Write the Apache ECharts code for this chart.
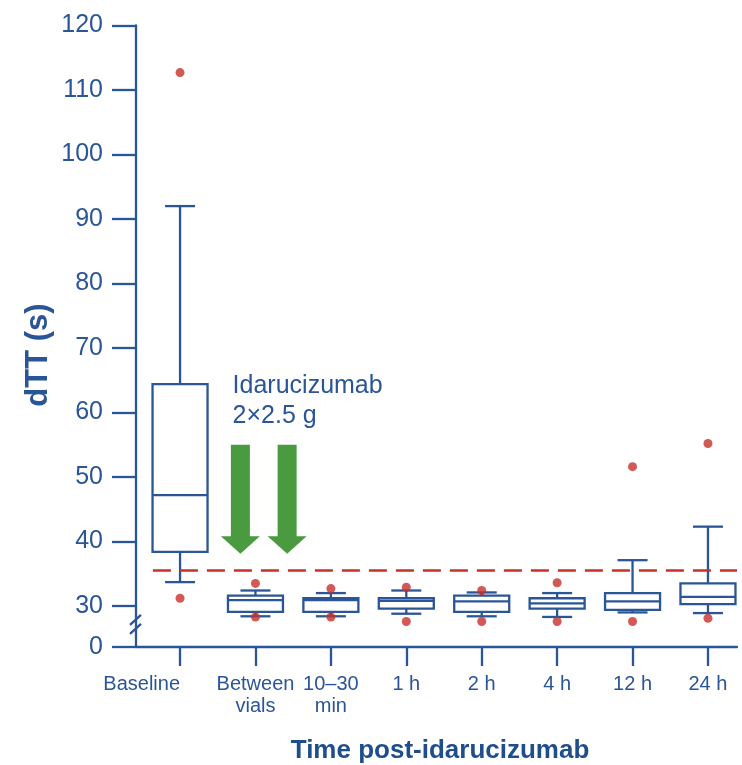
<!DOCTYPE html>
<html>
<head>
<meta charset="utf-8">
<script src="https://cdn.jsdelivr.net/npm/echarts@6/dist/echarts.min.js"></script>
<style>
  html, body { margin: 0; padding: 0; background: #ffffff; }
  #chart { width: 742px; height: 765px; }
</style>
</head>
<body>
<div id="chart"></div>
<script>
// Time points after idarucizumab administration
const categories = ['Baseline', 'Between\nvials', '10–30\nmin', '1 h', '2 h', '4 h', '12 h', '24 h'];

// Box statistics per time point (dTT, s)
const lowerWhisker = [33.7, 28.4, 28.4, 28.8, 28.4, 28.3, 29.0, 28.9];
const q1Values     = [38.4, 29.1, 29.1, 29.6, 29.1, 29.6, 29.4, 30.3];
const medians      = [47.2, 30.9, 30.9, 30.8, 30.7, 30.4, 30.7, 31.4];
const q3Values     = [64.4, 31.6, 31.2, 31.2, 31.6, 31.2, 32.0, 33.5];
const upperWhisker = [92.0, 32.4, 32.0, 32.4, 32.1, 32.0, 37.1, 42.3];

// Outlying values: [time point index, dTT]
const outliers = [
  [0, 112.7], [0, 31.2],
  [1, 33.5], [1, 28.3],
  [2, 32.7], [2, 28.3],
  [3, 32.9], [3, 27.6],
  [4, 32.4], [4, 27.6],
  [5, 33.6], [5, 27.6],
  [6, 51.6], [6, 27.6],
  [7, 55.2], [7, 28.1]
];

// Upper limit of normal for dTT
const upperLimitNormal = 35.6;

// Y tick labels above the axis break; the axis bottom is labelled 0
const yTickValues = [30, 40, 50, 60, 70, 80, 90, 100, 110, 120];
const yAxisFloor = 23.64;

const X_MIN = -0.584;
const X_MAX = 7.385;

const BLUE = '#2a5596';
const RED = '#c8302a';
const GREEN = '#4a9a3f';
const FONT = 'Liberation Sans, Arial, sans-serif';
const LW = 2.3;

const boxData = categories.map((c, i) => [i, lowerWhisker[i], q1Values[i], medians[i], q3Values[i], upperWhisker[i]]);
const xIndices = categories.map((c, i) => i);

function renderBox(params, api) {
  const x = api.value(0);
  const lo = api.coord([x, api.value(1)]);
  const q1 = api.coord([x, api.value(2)]);
  const md = api.coord([x, api.value(3)]);
  const q3 = api.coord([x, api.value(4)]);
  const hi = api.coord([x, api.value(5)]);
  const cx = lo[0];
  const boxW = 55, capW = 30;
  const line = { stroke: BLUE, lineWidth: LW };
  return {
    type: 'group',
    children: [
      { type: 'line', shape: { x1: cx, y1: q3[1], x2: cx, y2: hi[1] }, style: line },
      { type: 'line', shape: { x1: cx - capW / 2, y1: hi[1], x2: cx + capW / 2, y2: hi[1] }, style: line },
      { type: 'line', shape: { x1: cx, y1: q1[1], x2: cx, y2: lo[1] }, style: line },
      { type: 'line', shape: { x1: cx - capW / 2, y1: lo[1], x2: cx + capW / 2, y2: lo[1] }, style: line },
      { type: 'rect', shape: { x: cx - boxW / 2, y: q3[1], width: boxW, height: q1[1] - q3[1] },
        style: { fill: '#ffffff', stroke: BLUE, lineWidth: LW } },
      { type: 'line', shape: { x1: cx - boxW / 2, y1: md[1], x2: cx + boxW / 2, y2: md[1] }, style: line }
    ]
  };
}

const chart = echarts.init(document.getElementById('chart'), null, { renderer: 'canvas' });

chart.setOption({
  animation: false,
  backgroundColor: '#ffffff',
  grid: { left: 136, right: 5, top: 25.5, bottom: 118, containLabel: false },
  xAxis: {
    type: 'value',
    min: X_MIN,
    max: X_MAX,
    axisLine: { show: true, onZero: false, lineStyle: { color: BLUE, width: LW } },
    axisTick: { show: true, length: 19, customValues: xIndices, lineStyle: { color: BLUE, width: LW } },
    axisLabel: {
      customValues: xIndices,
      formatter: v => categories[Math.round(v)],
      alignMinLabel: 'right',
      color: BLUE, fontSize: 20, fontFamily: FONT, lineHeight: 22, margin: 26
    },
    splitLine: { show: false }
  },
  yAxis: {
    type: 'value',
    min: yAxisFloor,
    max: 120,
    axisLine: { show: true, onZero: false, lineStyle: { color: BLUE, width: LW } },
    axisTick: { show: true, length: 24, customValues: [yAxisFloor].concat(yTickValues), lineStyle: { color: BLUE, width: LW } },
    axisLabel: {
      customValues: [yAxisFloor].concat(yTickValues),
      formatter: v => (v < 30 ? '0' : String(v)),
      color: BLUE, fontSize: 25, fontFamily: FONT, margin: 33
    },
    splitLine: { show: false }
  },
  series: [
    {
      type: 'custom',
      name: 'dTT',
      z: 3,
      renderItem: renderBox,
      encode: { x: 0, y: [1, 2, 3, 4, 5] },
      data: boxData
    },
    {
      type: 'scatter',
      name: 'Outliers',
      z: 4,
      symbol: 'circle',
      symbolSize: 9,
      itemStyle: { color: RED },
      data: outliers,
      markLine: {
        silent: true,
        symbol: 'none',
        label: { show: false },
        lineStyle: { color: RED, width: 2.5, type: [18, 9] },
        data: [[{ coord: [-0.36, upperLimitNormal] }, { coord: [X_MAX, upperLimitNormal] }]]
      }
    }
  ]
});

// Annotations: axis break marks, dosing arrows, titles
function px(x, y) { return chart.convertToPixel({ gridIndex: 0 }, [x, y]); }

const axisX = px(X_MIN, 30)[0];
const breakY = px(0, 26.9)[1];
const arrowXs = [0.8, 1.42];
const arrowTop = px(0, 55.0)[1];
const arrowHeadBase = px(0, 40.8)[1];
const arrowTip = px(0, 38.1)[1];

const arrows = arrowXs.map(ax => {
  const cx = px(ax, 0)[0];
  return {
    type: 'polygon',
    shape: { points: [
      [cx - 9.5, arrowTop], [cx + 9.5, arrowTop], [cx + 9.5, arrowHeadBase], [cx + 19.5, arrowHeadBase],
      [cx, arrowTip], [cx - 19.5, arrowHeadBase], [cx - 9.5, arrowHeadBase]
    ] },
    style: { fill: GREEN }
  };
});

const textPos = px(0.75, 0);
const textTop = px(0, 66.4)[1];

chart.setOption({
  graphic: [
    { type: 'line', shape: { x1: axisX - 6, y1: breakY - 1, x2: axisX + 5, y2: breakY - 11 }, style: { stroke: BLUE, lineWidth: LW } },
    { type: 'line', shape: { x1: axisX - 6, y1: breakY + 8, x2: axisX + 5, y2: breakY - 2 }, style: { stroke: BLUE, lineWidth: LW } },
    ...arrows,
    {
      type: 'text', left: textPos[0] - 4, top: textTop,
      style: { text: 'Idarucizumab\n2×2.5 g', fill: BLUE, font: '25px ' + FONT, lineHeight: 30 }
    },
    {
      type: 'text', x: 38, y: 355, rotation: Math.PI / 2,
      style: { text: 'dTT (s)', fill: BLUE, font: 'bold 31px ' + FONT, align: 'center', verticalAlign: 'middle' }
    },
    {
      type: 'text', x: 440, y: 751,
      style: { text: 'Time post-idarucizumab', fill: '#1f4e8c', font: 'bold 26px ' + FONT, align: 'center', verticalAlign: 'middle' }
    }
  ]
});
</script>
</body>
</html>
